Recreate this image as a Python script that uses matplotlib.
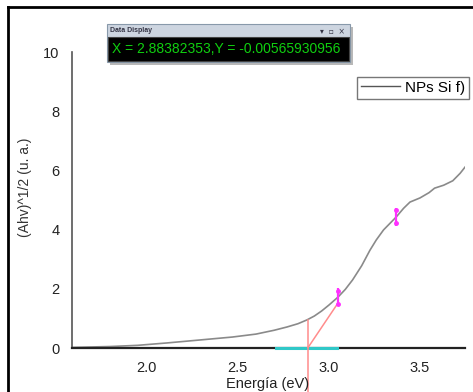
import matplotlib.pyplot as plt
from matplotlib.patches import Rectangle
from matplotlib.lines import Line2D

plt.rcParams['font.family'] = ['Liberation Sans', 'DejaVu Sans']

# curva (Ahv)^1/2 vs energia
energia = [1.59, 1.80, 1.95, 2.11, 2.29, 2.47, 2.60, 2.70, 2.77, 2.83,
           2.88, 2.92, 2.96, 3.00, 3.05, 3.09, 3.13, 3.18, 3.225, 3.26,
           3.30, 3.37, 3.41, 3.445, 3.50, 3.55, 3.58, 3.63, 3.68, 3.72, 3.747]
ahv = [0.02, 0.05, 0.09, 0.17, 0.27, 0.37, 0.47, 0.60, 0.71, 0.82,
       0.95, 1.08, 1.25, 1.45, 1.72, 1.98, 2.30, 2.78, 3.30, 3.65,
       3.99, 4.43, 4.72, 4.93, 5.07, 5.25, 5.40, 5.50, 5.65, 5.90, 6.11]

# ajuste lineal y marcadores
x_gap = 2.88382353
tang_x = [x_gap, 3.05]
tang_y = [0.0, 1.52]
rango_x = [2.709, 3.044]
marc_x = [3.05, 3.37]
marc_y = [1.72, 4.43]
xticks = [2.0, 2.5, 3.0, 3.5]
yticks = [0, 2, 4, 6, 8, 10]

fig = plt.figure(figsize=(4.73, 3.92), dpi=100)
W, H = 473, 392
ax = fig.add_axes([72 / W, 1 - 348 / H, (465 - 72) / W, (348 - 52) / H])

ax.plot(energia, ahv, color='#8a8a8a', lw=1.2, label='NPs Si f)')
ax.plot(rango_x, [0, 0], color='#30c8c8', lw=2.2, zorder=4, clip_on=False)
ax.plot(tang_x, tang_y, color='#ff8c8c', lw=1.1, zorder=5)
ax.plot([x_gap, x_gap], [-1.6, 0.95], color='#ff8c8c', lw=1.1, zorder=5, clip_on=False)
for mx, my in zip(marc_x, marc_y):
    ax.plot([mx], [my], marker='|', ms=13, mew=1.6, color='#ff30ff', zorder=6)
    ax.plot([mx, mx], [my - 0.22, my + 0.22], ls='none', marker='o', ms=2.5,
            color='#ff30ff', zorder=6)

ax.set_xlim(1.59, 3.747)
ax.set_ylim(0, 10)
ax.set_xticks(xticks)
ax.set_xticklabels(['%.1f' % v for v in xticks])
ax.set_yticks(yticks)
ax.tick_params(length=0, labelsize=10.5, pad=9, labelcolor='#222222')
for s in ['top', 'right']:
    ax.spines[s].set_visible(False)
ax.spines['left'].set_color('#555555')
ax.spines['left'].set_linewidth(1.2)
ax.spines['bottom'].set_color('#222222')
ax.spines['bottom'].set_linewidth(1.6)
fig.text(268 / W, 1 - 391 / H, 'Energía (eV)', fontsize=10.5, ha='center',
         va='bottom', color='#222222')
fig.text(25 / W, 1 - 187 / H, '(Ahv)^1/2 (u. a.)', rotation=90, fontsize=10,
         ha='center', va='center', color='#333333')

fig.legend(handles=[Line2D([0], [0], color='#555555', lw=1)], labels=['NPs Si f)'],
           loc='upper right', bbox_to_anchor=(469 / W, 1 - 77 / H),
           borderaxespad=0, fancybox=False, edgecolor='#777777', fontsize=11,
           handlelength=2.6, handletextpad=0.3, borderpad=0.25, framealpha=1)

# ventana "Data Display"
def rect(x0, y0, x1, y1, **kw):
    fig.patches.append(Rectangle((x0 / W, 1 - y1 / H), (x1 - x0) / W, (y1 - y0) / H,
                                 transform=fig.transFigure, figure=fig, **kw))

rect(110, 27, 353, 65, facecolor='#b8b8b8', edgecolor='none', zorder=10)
rect(107, 24, 350, 62, facecolor='#cdd5e0', edgecolor='#8899aa', lw=0.8, zorder=11)
rect(108, 37, 349, 61, facecolor='black', edgecolor='#444444', lw=0.8, zorder=12)
fig.text(110 / W, 1 - 31 / H, 'Data Display', fontsize=5, fontweight='bold',
         color='#334', va='center', zorder=13)
fig.text(345 / W, 1 - 31 / H, '▾  ▫  ×', fontsize=5.5, color='#334', ha='right',
         va='center', family=['DejaVu Sans'], zorder=13)
fig.text(112 / W, 1 - 49 / H, 'X = 2.88382353,Y = -0.00565930956', fontsize=10,
         color='#10d010', va='center', zorder=13)

# marco exterior
fig.lines.append(Line2D([8 / W, 8 / W], [0, 1 - 7 / H], transform=fig.transFigure,
                        color='black', lw=2))
fig.lines.append(Line2D([8 / W, 1], [1 - 7 / H, 1 - 7 / H], transform=fig.transFigure,
                        color='black', lw=2))

fig.savefig('out.png', dpi=100)
